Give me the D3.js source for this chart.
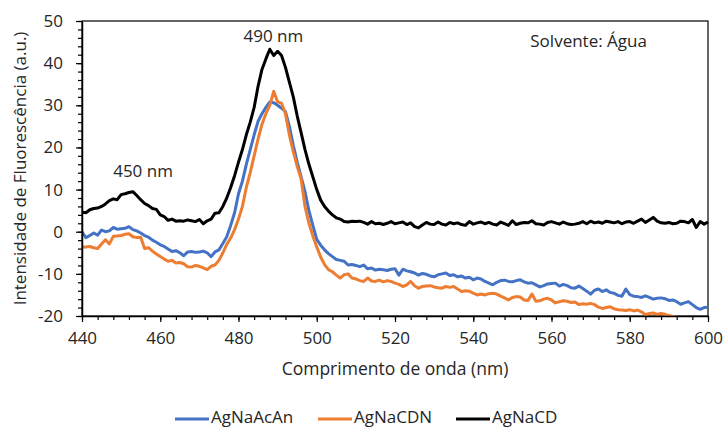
<!DOCTYPE html>
<html>
<head>
<meta charset="utf-8">
<script src="https://cdn.jsdelivr.net/npm/d3@7"></script>
<style>
  body { margin: 0; background: #fff; }
  text { font-family: "Open Sans", Lato, sans-serif; fill: #262626; }
</style>
</head>
<body>
<div id="chart"></div>
<script>
// wavelength grid, 1 nm steps from 440 to 600
const wavelengths = d3.range(440, 601, 1);

const agNaAcAn = [
  0.0, -1.4, -0.9, -0.3, -0.8, 0.4, 0.0, 0.2, 1.0, 0.6,
  0.7, 0.8, 1.2, 0.5, 0.2, -0.3, -0.9, -1.3, -2.0, -2.5,
  -3.1, -3.5, -4.1, -4.7, -4.5, -5.0, -5.7, -4.8, -4.7, -4.9,
  -4.8, -4.6, -5.0, -5.9, -4.8, -4.3, -2.8, -1.2, 1.5, 4.5,
  9.0, 12.0, 16.0, 19.5, 23.0, 26.2, 28.0, 29.5, 30.8, 30.6,
  30.0, 29.3, 28.5, 25.0, 20.5, 16.5, 13.0, 9.5, 5.0, 1.5,
  -1.8, -3.2, -4.3, -5.2, -5.9, -6.6, -6.8, -7.0, -7.9, -7.8,
  -8.0, -8.3, -7.9, -8.8, -8.6, -9.1, -8.9, -9.0, -9.2, -8.9,
  -8.8, -10.3, -8.9, -9.3, -9.5, -9.8, -10.3, -9.9, -10.1, -10.5,
  -10.7, -10.2, -10.0, -9.8, -10.4, -10.2, -10.7, -10.5, -11.0, -10.8,
  -11.4, -11.0, -11.2, -11.8, -12.2, -12.6, -12.0, -11.6, -11.5, -11.8,
  -11.9, -11.6, -11.4, -11.9, -12.2, -12.1, -12.6, -13.1, -12.8, -12.4,
  -12.3, -12.2, -12.9, -12.5, -12.8, -13.3, -13.4, -12.9, -13.5, -14.1,
  -14.8, -13.9, -13.6, -14.2, -13.8, -14.4, -14.6, -15.1, -15.3, -13.6,
  -14.9, -15.3, -15.4, -15.6, -15.2, -15.6, -16.0, -15.8, -15.7, -15.9,
  -16.3, -16.2, -16.6, -17.2, -16.9, -16.6, -17.3, -18.0, -18.4, -18.0,
  -17.9
];

const agNaCDN = [
  -3.7, -3.6, -3.5, -3.8, -4.0, -2.9, -1.9, -2.9, -1.1, -1.0,
  -0.9, -0.6, -0.5, -1.2, -1.4, -1.3, -4.0, -3.8, -4.6, -5.3,
  -5.9, -6.5, -7.0, -6.8, -7.4, -7.3, -7.6, -8.3, -8.4, -8.0,
  -8.2, -8.6, -9.0, -8.2, -7.9, -6.8, -5.0, -3.0, -1.5, 0.5,
  3.0, 6.0, 10.5, 14.0, 18.0, 22.0, 25.5, 28.0, 30.0, 33.3,
  30.8, 30.5, 28.0, 23.0, 19.0, 15.5, 12.5, 6.0, 2.0, -1.0,
  -3.6, -6.0, -7.8, -9.0, -9.5, -10.3, -11.0, -10.2, -10.0, -11.0,
  -11.2, -11.6, -11.8, -11.0, -11.7, -11.8, -11.5, -11.9, -11.6, -11.8,
  -12.2, -12.5, -13.0, -12.6, -11.8, -12.8, -13.4, -13.0, -12.9, -12.8,
  -13.1, -13.3, -13.4, -13.0, -13.2, -13.0, -13.6, -14.2, -14.0, -14.1,
  -14.6, -15.0, -14.8, -15.0, -14.7, -14.6, -14.8, -15.3, -15.7, -16.2,
  -15.6, -15.4, -15.5, -16.2, -16.3, -14.8, -16.5, -16.4, -16.0, -15.8,
  -16.2, -16.9, -16.6, -16.4, -16.5, -16.8, -16.7, -17.3, -17.1, -17.2,
  -17.0, -17.3, -17.9, -18.2, -18.0, -17.8, -18.3, -18.5, -18.6, -18.7,
  -18.5, -18.8, -18.6, -19.0, -19.7, -19.4, -19.3, -19.6, -19.4, -19.6,
  -19.9, -20.1, -20.4, -20.6, -20.5, -20.8, -21.0, -20.9, -21.2, -21.4,
  -21.3
];

const agNaCD = [
  4.6, 4.5, 5.2, 5.5, 5.6, 6.0, 6.6, 7.4, 7.8, 7.6,
  8.8, 9.0, 9.3, 9.5, 8.6, 7.6, 6.7, 6.2, 5.5, 5.3,
  4.0, 3.6, 2.7, 3.0, 2.5, 2.6, 2.5, 2.8, 2.6, 2.4,
  2.9, 1.9, 2.6, 3.0, 4.4, 4.5, 6.0, 8.0, 10.5, 13.3,
  16.5, 19.5, 23.0, 26.0, 29.5, 34.5, 38.5, 41.0, 43.3, 41.8,
  42.8, 41.8, 39.0, 35.5, 32.0, 27.5, 23.5, 19.5, 16.0, 13.0,
  10.0, 7.5, 6.0, 4.9, 4.0, 3.3, 3.0, 2.4, 2.3, 2.5,
  2.4, 2.5, 2.2, 1.8, 2.4, 1.9, 2.0, 1.7, 2.0, 2.4,
  1.9, 2.1, 2.3, 1.7, 2.1, 1.2, 0.9, 1.6, 2.2, 1.8,
  1.7, 2.3, 1.8, 1.6, 2.2, 1.9, 2.1, 1.7, 1.5, 2.4,
  1.8, 2.1, 2.3, 1.9, 2.2, 1.8, 1.6, 2.3, 1.9, 1.5,
  2.6, 1.7, 2.0, 2.2, 2.1, 2.6, 1.9, 1.8, 1.6, 2.2,
  2.4, 2.1, 1.8, 2.3, 1.9, 1.7, 1.8, 2.0, 2.4, 1.9,
  2.5, 2.1, 2.3, 2.0, 2.5, 2.3, 2.1, 2.4, 1.9, 2.3,
  2.4, 2.0, 2.5, 3.0, 2.2, 2.8, 3.4, 2.5, 2.1, 2.0,
  2.2, 1.9, 2.0, 2.5, 2.4, 2.1, 2.9, 1.0, 2.4, 1.8,
  2.3
];

const seriesNames = ["AgNaAcAn", "AgNaCDN", "AgNaCD"];
const seriesColors = ["#4472c4", "#ed7d31", "#000000"];
const xTicks = [440, 460, 480, 500, 520, 540, 560, 580, 600];
const yTicks = [-20, -10, 0, 10, 20, 30, 40, 50];

function PlotSpectra(parent_element) {
  const W = 724, H = 427;
  const margin = {top: 21, right: 16, bottom: 111, left: 82};
  const width = W - margin.left - margin.right;
  const height = H - margin.top - margin.bottom;

  const root = d3.select("#" + parent_element)
    .append("svg")
      .attr("width", W)
      .attr("height", H);

  const svg = root.append("g")
      .attr("transform", `translate(${margin.left},${margin.top})`);

  const x = d3.scaleLinear().domain([440, 600]).range([0, width]);
  const y = d3.scaleLinear().domain([-20, 50]).range([height, 0]);

  svg.append("clipPath")
      .attr("id", "plot-clip")
    .append("rect")
      .attr("x", -2)
      .attr("y", -2)
      .attr("width", width + 4)
      .attr("height", height + 2);

  // plot frame (top and right edges)
  svg.append("rect")
      .attr("width", width)
      .attr("height", height)
      .attr("fill", "none")
      .attr("stroke", "#000")
      .attr("stroke-width", 1.2);

  const data = [agNaAcAn, agNaCDN, agNaCD];
  const line = d3.line()
    .x((d, i) => x(wavelengths[i]))
    .y(d => y(d));

  svg.append("g")
      .attr("clip-path", "url(#plot-clip)")
    .selectAll("path")
    .data(data)
    .join("path")
      .attr("d", line)
      .attr("fill", "none")
      .attr("stroke", (d, i) => seriesColors[i])
      .attr("stroke-width", 3)
      .attr("stroke-linejoin", "round");

  // minor ticks
  svg.append("g")
      .attr("transform", `translate(0,${height})`)
      .call(d3.axisBottom(x).tickValues(d3.range(440, 601, 4)).tickSize(4).tickFormat(""))
      .call(g => g.select(".domain").remove())
      .selectAll("line").attr("stroke", "#000").attr("stroke-width", 1.2);

  svg.append("g")
      .call(d3.axisLeft(y).tickValues(d3.range(-20, 51, 2)).tickSize(4).tickFormat(""))
      .call(g => g.select(".domain").remove())
      .selectAll("line").attr("stroke", "#000").attr("stroke-width", 1.2);

  // major ticks and labels
  const xAxis = svg.append("g")
      .attr("transform", `translate(0,${height})`)
      .call(d3.axisBottom(x).tickValues(xTicks).tickSize(6).tickSizeOuter(0).tickPadding(10).tickFormat(d => d));
  xAxis.select(".domain").attr("stroke", "#000").attr("stroke-width", 1.5);
  xAxis.selectAll("line").attr("stroke", "#000").attr("stroke-width", 1.2);
  xAxis.selectAll("text").style("font-size", "17px").attr("fill", "#262626");

  const yAxis = svg.append("g")
      .call(d3.axisLeft(y).tickValues(yTicks).tickSize(6).tickSizeOuter(0).tickPadding(13).tickFormat(d => String(d)));
  yAxis.select(".domain").attr("stroke", "#000").attr("stroke-width", 1.5);
  yAxis.selectAll("line").attr("stroke", "#000").attr("stroke-width", 1.2);
  yAxis.selectAll("text").style("font-size", "17px").attr("fill", "#262626");

  // axis titles
  root.append("text")
      .attr("x", margin.left + width / 2)
      .attr("y", 375)
      .attr("text-anchor", "middle")
      .style("font-size", "17.5px")
      .text("Comprimento de onda (nm)");

  root.append("text")
      .attr("transform", `translate(26,${margin.top + height / 2}) rotate(-90)`)
      .attr("text-anchor", "middle")
      .style("font-size", "17px")
      .text("Intensidade de Fluorescência (a.u.)");

  // annotations
  svg.append("text")
      .attr("x", x(455.6))
      .attr("y", y(13))
      .attr("text-anchor", "middle")
      .style("font-size", "17px")
      .text("450 nm");

  svg.append("text")
      .attr("x", x(488.9))
      .attr("y", y(45))
      .attr("text-anchor", "middle")
      .style("font-size", "17px")
      .text("490 nm");

  svg.append("text")
      .attr("x", x(584.4))
      .attr("y", y(43.8))
      .attr("text-anchor", "end")
      .style("font-size", "17px")
      .text("Solvente: Água");

  // legend
  const legendX = [175, 318, 456];
  const legend = root.append("g");
  seriesNames.forEach((name, i) => {
    legend.append("line")
        .attr("x1", legendX[i])
        .attr("x2", legendX[i] + 34)
        .attr("y1", 419)
        .attr("y2", 419)
        .attr("stroke", seriesColors[i])
        .attr("stroke-width", 3);
    legend.append("text")
        .attr("x", legendX[i] + 36)
        .attr("y", 422.5)
        .style("font-size", "17px")
        .text(name);
  });
}

document.addEventListener('DOMContentLoaded', (event) => {
  PlotSpectra("chart");
});
</script>
</body>
</html>
